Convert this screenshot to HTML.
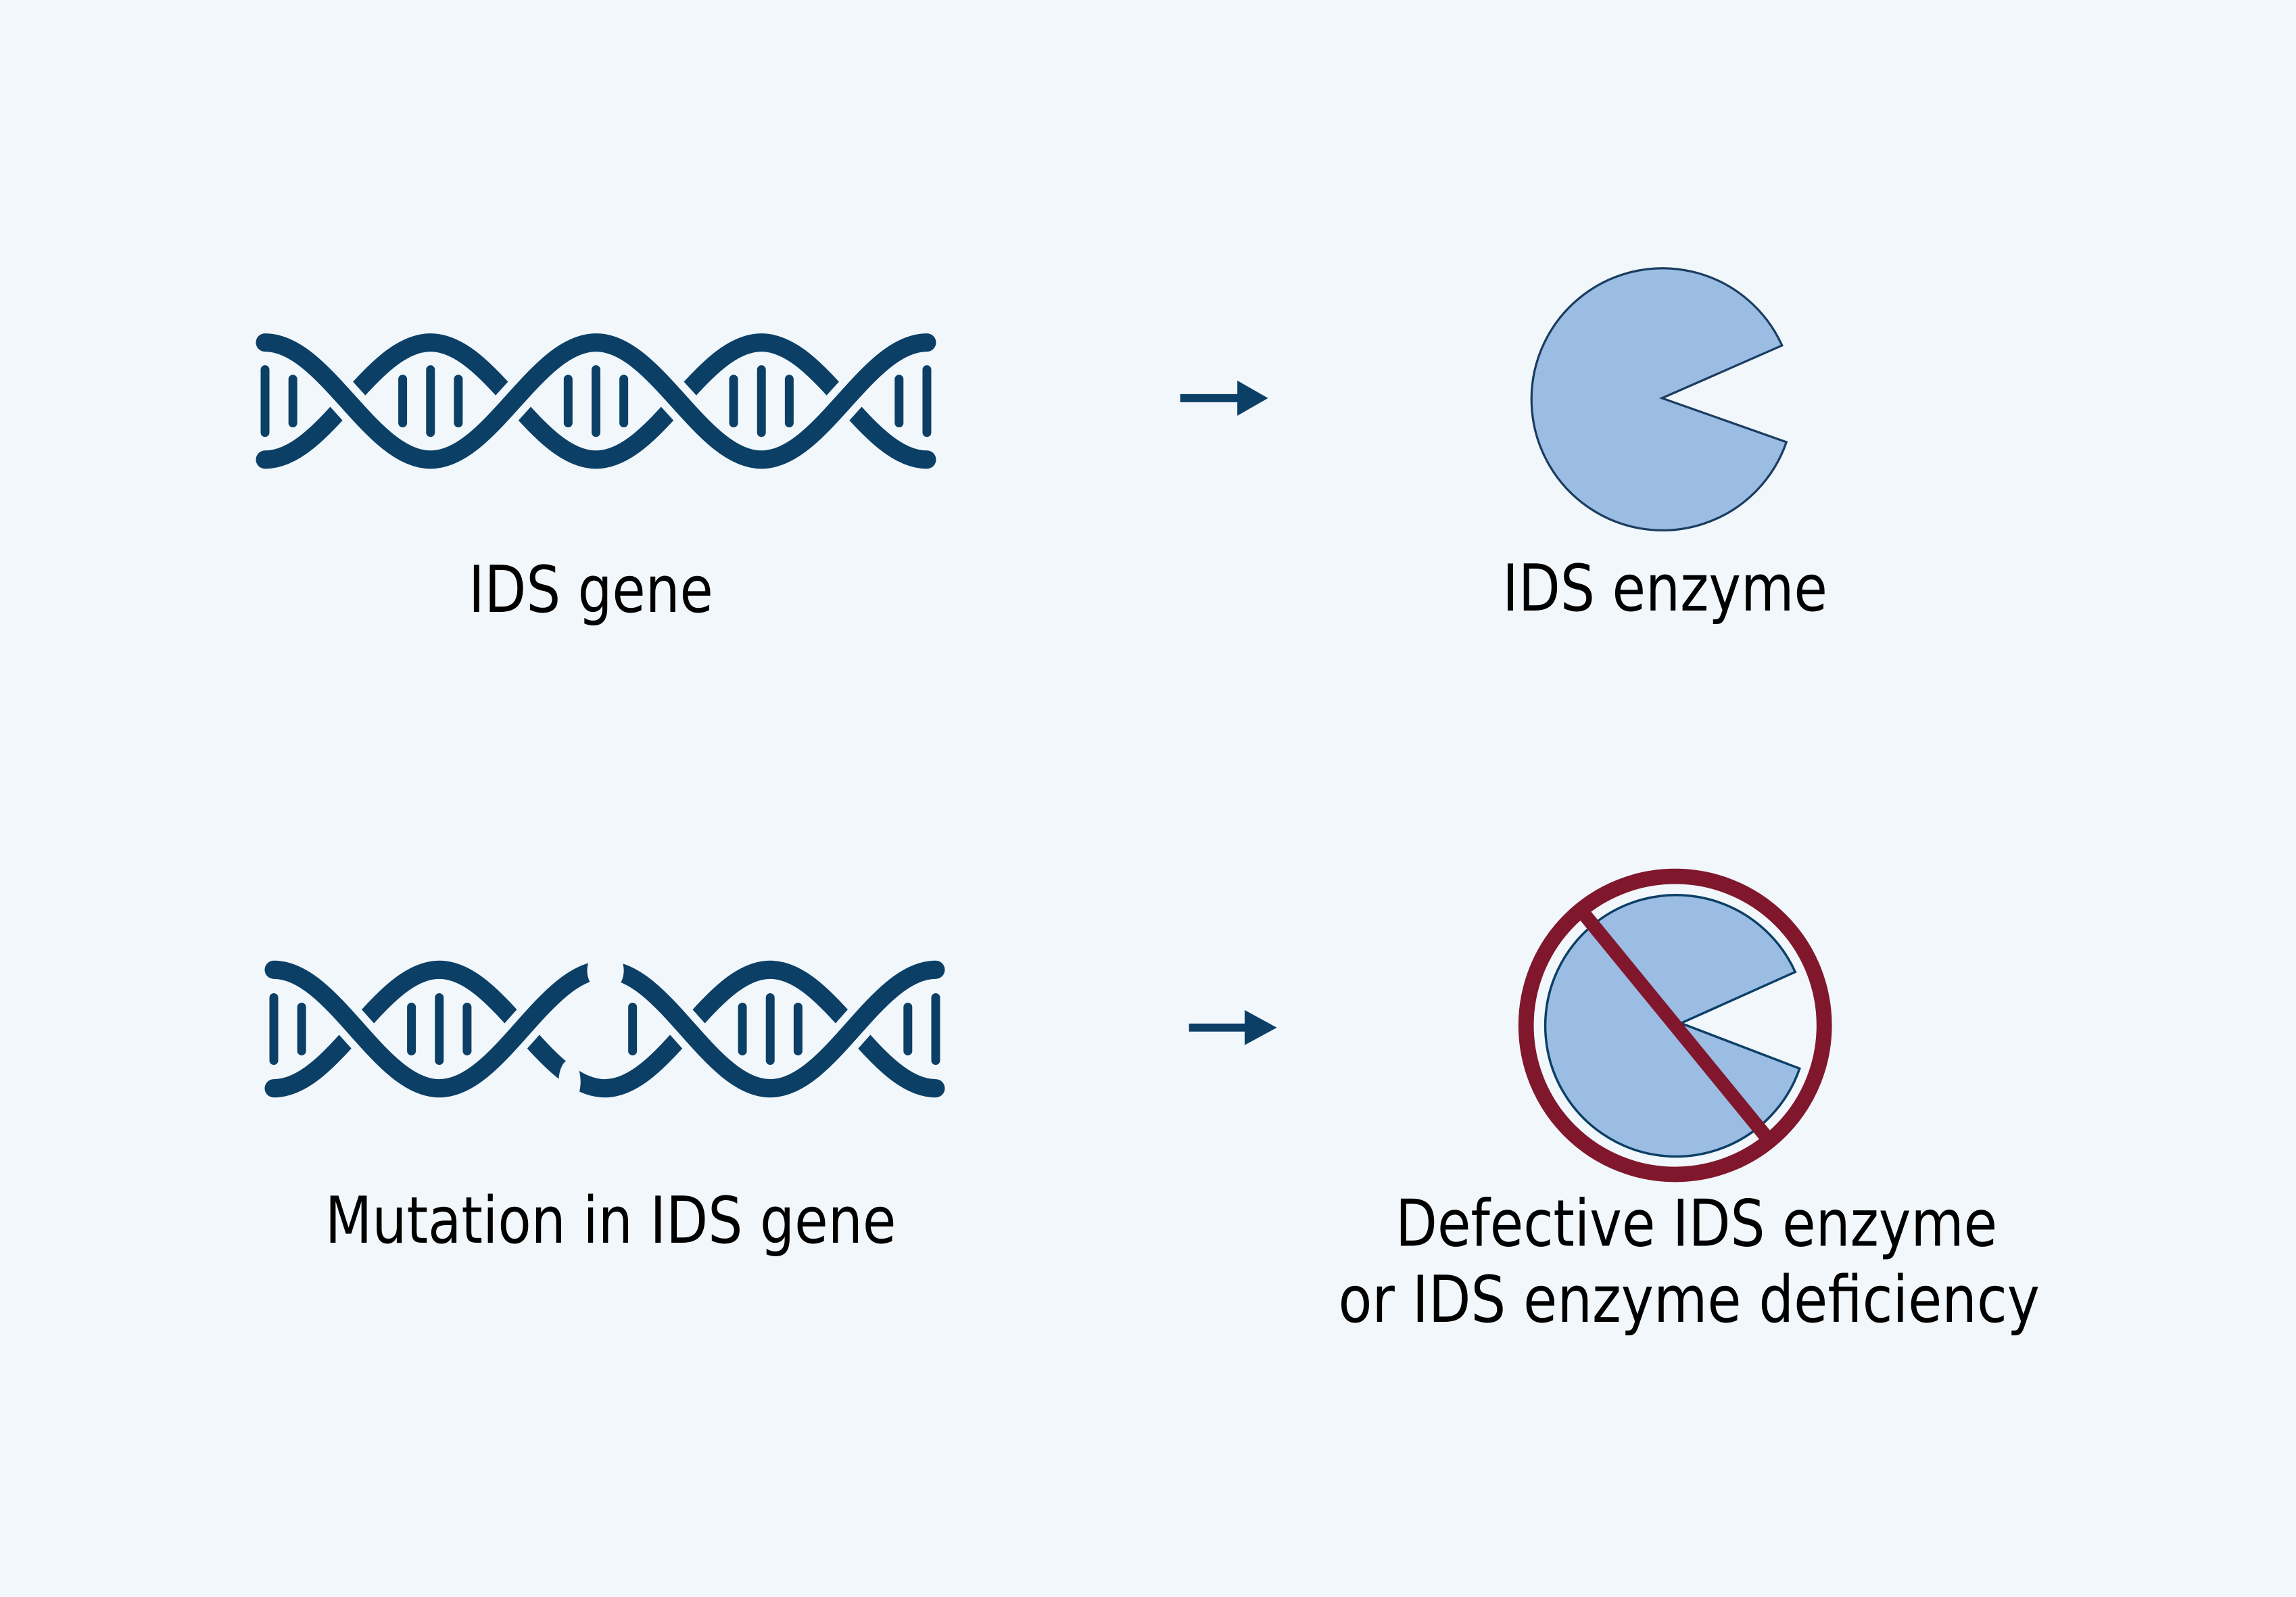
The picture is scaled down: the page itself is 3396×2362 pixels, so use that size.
<!DOCTYPE html>
<html><head><meta charset="utf-8"><style>
html,body{margin:0;padding:0;background:#f1f7fb;}
svg{display:block;}
text{font-family:"DejaVu Sans Condensed","DejaVu Sans","Liberation Sans",sans-serif;fill:#000;font-size:44px;}
</style></head><body>
<svg width="3396" height="2362" viewBox="0 0 1568 1091" preserveAspectRatio="none" xmlns="http://www.w3.org/2000/svg">
<rect width="1568" height="1091" fill="#f1f7fb"/>
<g fill="none" stroke="#0c3f66" stroke-linecap="round">
 <path stroke-width="12.5" d="M181,314 C222,314 253,234 294,234 C335,234 366,314 407,314 C448,314 479,234 520,234 C561,234 592,314 633,314"/>
 <path stroke="#f1f7fb" stroke-width="23" stroke-linecap="butt" d="M181,234 C222,234 253,314 294,314 C335,314 366,234 407,234 C448,234 479,314 520,314 C561,314 592,234 633,234"/>
 <path stroke-width="12.5" d="M181,234 C222,234 253,314 294,314 C335,314 366,234 407,234 C448,234 479,314 520,314 C561,314 592,234 633,234"/>
 <g stroke-width="6">
  <path d="M181,252.5 V295.5 M294,252.5 V295.5 M407,252.5 V295.5 M520,252.5 V295.5 M633,252.5 V295.5"/>
  <path d="M200,259 V289 M275,259 V289 M313,259 V289 M388,259 V289 M426,259 V289 M501,259 V289 M539,259 V289 M614,259 V289"/>
 </g>

 <path stroke-width="12.5" d="M187,743.5 C228,743.5 259,662.5 300,662.5 C341,662.5 372,743.5 413,743.5 C454,743.5 485,662.5 526,662.5 C567,662.5 598,743.5 639,743.5"/>
 <path stroke="#f1f7fb" stroke-width="23" stroke-linecap="butt" d="M187,662.5 C228,662.5 259,743.5 300,743.5 C341,743.5 372,662.5 413,662.5 C454,662.5 485,743.5 526,743.5 C567,743.5 598,662.5 639,662.5"/>
 <path stroke-width="12.5" d="M187,662.5 C228,662.5 259,743.5 300,743.5 C341,743.5 372,662.5 413,662.5 C454,662.5 485,743.5 526,743.5 C567,743.5 598,662.5 639,662.5"/>
 <g stroke-width="6">
  <path d="M187,681.5 V724.5 M300,681.5 V724.5 M526,681.5 V724.5 M639,681.5 V724.5"/>
  <path d="M206,688 V718 M281,688 V718 M319,688 V718 M432,688 V718 M507,688 V718 M545,688 V718 M620,688 V718"/>
 </g>
</g>
<ellipse cx="413.5" cy="663" rx="12.5" ry="15" fill="#f1f7fb"/>
<ellipse cx="389" cy="739" rx="7.5" ry="15" fill="#f1f7fb"/>

<path d="M806,272 H847" stroke="#0c3f66" stroke-width="5.5"/>
<polygon points="845,260 866,272 845,284" fill="#0c3f66"/>
<path d="M812,702 H852" stroke="#0c3f66" stroke-width="5.5"/>
<polygon points="850,690 872,702 850,714" fill="#0c3f66"/>

<path d="M1135,272 L1217,236 A89.5,89.5 0 1,0 1220,302 Z" fill="#9bbde4" stroke="#1a3d60" stroke-width="1.5"/>

<path d="M1148,699 L1226,664 A89.3,89.3 0 1,0 1229,730 Z" fill="#9bbde4" stroke="#0c3f66" stroke-width="1.6"/>
<path d="M1079,621 L1209,780" stroke="#80172c" stroke-width="9.5"/>
<circle cx="1144" cy="700.5" r="101.8" fill="none" stroke="#80172c" stroke-width="10.5"/>

<text x="320" y="418" textLength="167" lengthAdjust="spacingAndGlyphs">IDS gene</text>
<text x="1026" y="417" textLength="222" lengthAdjust="spacingAndGlyphs">IDS enzyme</text>
<text x="222" y="849" textLength="390" lengthAdjust="spacingAndGlyphs">Mutation in IDS gene</text>
<text x="953" y="851" textLength="411" lengthAdjust="spacingAndGlyphs">Defective IDS enzyme</text>
<text x="914" y="903" textLength="479" lengthAdjust="spacingAndGlyphs">or IDS enzyme deficiency</text>
</svg>
</body></html>
